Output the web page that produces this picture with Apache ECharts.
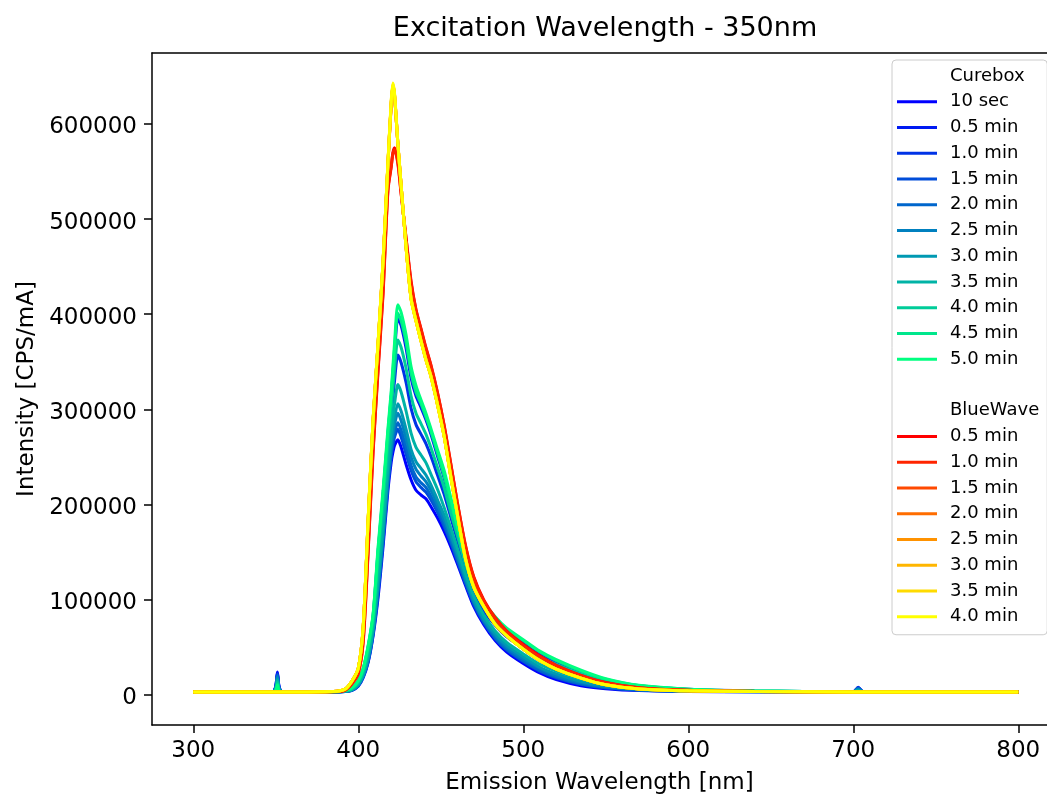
<!DOCTYPE html>
<html><head><meta charset="utf-8">
<script src="https://cdn.jsdelivr.net/npm/echarts@6/dist/echarts.min.js"></script>
<style>html,body{margin:0;padding:0;background:#fff}#chart{width:1047px;height:800px}</style>
</head><body><div id="chart"></div>
<script>
// Emission wavelength grid [nm] shared by all spectra
const wavelengths = [300, 348, 350, 351, 352, 354, 385, 392, 396, 400, 403, 406, 409, 412, 415, 418, 420, 421, 422, 424, 426, 429, 432, 435, 438, 441, 444, 448, 452, 456, 460, 465, 470, 476, 483, 490, 500, 510, 520, 535, 550, 570, 600, 640, 700, 703, 706, 800];
const xTickValues = [300, 400, 500, 600, 700, 800];
const yTickValues = [0, 100000, 200000, 300000, 400000, 500000, 600000];

const cureboxLabels = ['10 sec', '0.5 min', '1.0 min', '1.5 min', '2.0 min', '2.5 min', '3.0 min', '3.5 min', '4.0 min', '4.5 min', '5.0 min'];
const cureboxColors = ['#0000ff', '#001af2', '#0033e6', '#004dd9', '#0066cc', '#0080bf', '#0099b2', '#00b3a6', '#00cc99', '#00e68c', '#00ff80'];
const bluewaveLabels = ['0.5 min', '1.0 min', '1.5 min', '2.0 min', '2.5 min', '3.0 min', '3.5 min', '4.0 min'];
const bluewaveColors = ['#ff0000', '#ff2400', '#ff4900', '#ff6d00', '#ff9200', '#ffb600', '#ffdb00', '#ffff00'];

// Curebox intensities [CPS/mA]
const cb10sec = [3000, 3000, 9000, 24000, 9000, 3000, 3000, 3500, 4500, 9000, 18000, 34000, 62000, 102000, 155000, 215000, 245000, 255000, 262000, 268000, 260000, 242000, 226000, 215000, 210000, 206000, 198000, 186000, 172000, 156000, 138000, 115000, 93000, 74000, 57000, 45000, 33000, 23000, 16000, 9500, 6500, 4500, 3500, 3200, 3000, 8000, 3000, 3000];
const cb05min = [3000, 3000, 9000, 23000, 8000, 3000, 3200, 4400, 6800, 14400, 27000, 50000, 83000, 150000, 209000, 274000, 313000, 336000, 359000, 396000, 388000, 364000, 333000, 314000, 302000, 289000, 274000, 251000, 228000, 200000, 174000, 142000, 117000, 96000, 80000, 68000, 56000, 44000, 35000, 24400, 16000, 9500, 5800, 4100, 3300, 7000, 3300, 3000];
const cb10min = [3000, 3000, 8000, 22000, 8000, 3000, 3100, 4100, 6100, 12800, 24300, 45000, 76000, 135000, 193000, 256000, 292000, 312000, 330000, 357000, 349000, 328000, 301000, 284000, 274000, 264000, 251000, 231000, 211000, 187000, 163000, 134000, 110000, 89000, 73000, 61000, 49000, 37000, 29000, 19900, 13100, 8000, 5100, 3800, 3200, 7000, 3200, 3000];
const cb15min = [3000, 3000, 8000, 21000, 7000, 3000, 3000, 3600, 4700, 9500, 19000, 35000, 64000, 106000, 160000, 220000, 251000, 262000, 271000, 279000, 271000, 253000, 236000, 224000, 218000, 213000, 205000, 192000, 177000, 160000, 141000, 117000, 95000, 76000, 59000, 47000, 35000, 25000, 18000, 11000, 7300, 4900, 3700, 3300, 3000, 7500, 3000, 3000];
const cb20min = [3000, 3000, 7000, 20000, 7000, 3000, 3000, 3600, 4800, 9800, 19300, 36000, 65000, 109000, 163000, 223000, 255000, 267000, 276000, 286000, 278000, 260000, 241000, 229000, 223000, 218000, 209000, 195000, 180000, 162000, 143000, 119000, 97000, 77000, 60000, 48000, 36000, 26000, 19000, 11600, 7900, 5200, 3800, 3300, 3000, 7000, 3000, 3000];
const cb25min = [3000, 3000, 7000, 19000, 6000, 3000, 3000, 3700, 5000, 10200, 20000, 38000, 67000, 113000, 167000, 228000, 260000, 273000, 284000, 296000, 288000, 269000, 250000, 237000, 230000, 224000, 215000, 200000, 184000, 166000, 146000, 121000, 98000, 79000, 62000, 50000, 38000, 28000, 20000, 12800, 8600, 5600, 4000, 3400, 3100, 6000, 3100, 3000];
const cb30min = [3000, 3000, 6000, 17000, 6000, 3000, 3000, 3800, 5200, 10600, 20700, 39000, 68000, 116000, 171000, 233000, 265000, 279000, 291000, 306000, 298000, 279000, 258000, 245000, 238000, 231000, 221000, 205000, 189000, 169000, 149000, 123000, 100000, 80000, 64000, 52000, 40000, 29000, 22000, 14000, 9300, 6000, 4200, 3500, 3100, 5000, 3100, 3000];
const cb35min = [3000, 3000, 6000, 15000, 5000, 3000, 3100, 3900, 5500, 11500, 22100, 41000, 71000, 124000, 180000, 242000, 276000, 292000, 306000, 326000, 318000, 298000, 275000, 260000, 252000, 244000, 232000, 216000, 197000, 176000, 154000, 127000, 104000, 84000, 67000, 55000, 43000, 32000, 25000, 16300, 10800, 6800, 4500, 3600, 3100, 4500, 3100, 3000];
const cb40min = [3000, 3000, 5000, 13000, 5000, 3000, 3100, 4200, 6400, 13400, 25400, 47000, 79000, 141000, 199000, 263000, 300000, 322000, 342000, 373000, 365000, 343000, 314000, 296000, 285000, 274000, 260000, 239000, 218000, 192000, 168000, 137000, 113000, 92000, 76000, 64000, 52000, 40000, 32000, 21700, 14300, 8600, 5400, 3900, 3200, 3500, 3200, 3000];
const cb45min = [3000, 3000, 5000, 11000, 4000, 3000, 3200, 4400, 6900, 14600, 27400, 51000, 84000, 152000, 211000, 276000, 316000, 340000, 364000, 401000, 393000, 370000, 338000, 318000, 306000, 292000, 277000, 254000, 230000, 202000, 176000, 143000, 118000, 97000, 81000, 69000, 57000, 45000, 36000, 25000, 16400, 9700, 5900, 4100, 3300, 3300, 3300, 3000];
const cb50min = [3000, 3000, 4000, 10000, 4000, 3000, 3200, 4500, 7000, 15000, 28000, 52000, 85000, 155000, 215000, 280000, 320000, 345000, 370000, 410000, 402000, 378000, 345000, 325000, 310000, 296000, 280000, 258000, 236000, 208000, 178000, 145000, 120000, 98000, 82000, 70000, 58000, 46000, 37000, 26000, 17000, 10000, 6000, 4200, 3300, 3300, 3300, 3000];

// BlueWave intensities [CPS/mA]
const bw05min = [3000, 3000, 3000, 3000, 3000, 3000, 3200, 4800, 11000, 22000, 55000, 150000, 255000, 340000, 420000, 530000, 555000, 570000, 575000, 560000, 527000, 480000, 435000, 405000, 385000, 365000, 347000, 318000, 284000, 244000, 203000, 157000, 124000, 100000, 81000, 67000, 53000, 41000, 31000, 20500, 13000, 7500, 4800, 3700, 3100, 3100, 3100, 3000];
const bw10min = [3000, 3000, 3000, 3000, 3000, 3000, 3200, 4900, 11500, 23000, 57000, 153000, 258000, 343000, 423000, 532000, 556000, 569000, 573000, 558000, 526000, 479000, 433000, 404000, 384000, 364000, 346000, 317000, 283000, 243000, 202000, 156000, 123000, 99000, 80000, 66000, 52000, 40000, 30500, 20200, 12800, 7400, 4700, 3600, 3100, 3100, 3100, 3000];
const bw15min = [3000, 3000, 3000, 3000, 3000, 3000, 3500, 5900, 13800, 27600, 71000, 183000, 288000, 368000, 453000, 558000, 621000, 639000, 629000, 579000, 534000, 471000, 417000, 394000, 373000, 353000, 336000, 306000, 273000, 231000, 191000, 144000, 114000, 93000, 74000, 62000, 48000, 36000, 27000, 17700, 10700, 6300, 4200, 3500, 3100, 3100, 3100, 3000];
const bw20min = [3000, 3000, 3000, 3000, 3000, 3000, 3500, 5900, 13900, 27700, 71000, 183000, 288000, 368000, 453000, 558000, 622000, 640000, 630000, 579000, 535000, 470000, 417000, 394000, 373000, 353000, 336000, 306000, 273000, 231000, 191000, 144000, 114000, 93000, 74000, 62000, 48000, 36000, 27000, 17600, 10600, 6300, 4200, 3500, 3100, 3100, 3100, 3000];
const bw25min = [3000, 3000, 3000, 3000, 3000, 3000, 3500, 6000, 13900, 27800, 71500, 184000, 289000, 369000, 454000, 559000, 622000, 640000, 630000, 579000, 535000, 470000, 417000, 393000, 372000, 352000, 335000, 305000, 272000, 231000, 190000, 143000, 114000, 93000, 74000, 62000, 48000, 36000, 27000, 17600, 10600, 6200, 4200, 3500, 3100, 3100, 3100, 3000];
const bw30min = [3000, 3000, 3000, 3000, 3000, 3000, 3500, 6000, 13900, 27800, 71500, 184000, 289000, 369000, 454000, 559000, 623000, 641000, 630000, 579000, 535000, 470000, 416000, 393000, 372000, 352000, 335000, 305000, 272000, 230000, 190000, 143000, 113000, 93000, 74000, 62000, 48000, 36000, 27000, 17500, 10500, 6200, 4200, 3500, 3100, 3100, 3100, 3000];
const bw35min = [3000, 3000, 3000, 3000, 3000, 3000, 3500, 6000, 14000, 27900, 71700, 184500, 289500, 369500, 454500, 559500, 624000, 642000, 631000, 580000, 535000, 470000, 416000, 393000, 372000, 352000, 335000, 305000, 272000, 230000, 190000, 143000, 113000, 93000, 74000, 62000, 48000, 36000, 27000, 17500, 10500, 6200, 4200, 3500, 3100, 3100, 3100, 3000];
const bw40min = [3000, 3000, 3000, 3000, 3000, 3000, 3500, 6000, 14000, 28000, 72000, 185000, 290000, 370000, 455000, 560000, 625000, 643000, 632000, 580000, 535000, 470000, 416000, 393000, 372000, 352000, 335000, 305000, 272000, 230000, 190000, 143000, 113000, 93000, 74000, 62000, 48000, 36000, 27000, 17500, 10500, 6200, 4200, 3500, 3100, 3100, 3100, 3000];

const cureboxValues = [cb10sec, cb05min, cb10min, cb15min, cb20min, cb25min, cb30min, cb35min, cb40min, cb45min, cb50min];
const bluewaveValues = [bw05min, bw10min, bw15min, bw20min, bw25min, bw30min, bw35min, bw40min];

const FONT = "'DejaVu Sans', sans-serif";
const series = [];
function addHeader(name) {
  series.push({ name: name, type: 'line', data: [], color: 'rgba(0,0,0,0)', lineStyle: { color: 'rgba(0,0,0,0)' }, symbol: 'none' });
}
function addLine(name, color, vals) {
  series.push({
    name: name, type: 'line', color: color, symbol: 'none', showSymbol: false, smooth: 0.25,
    lineStyle: { width: 3, color: color }, emphasis: { disabled: true },
    data: wavelengths.map((w, k) => [w, vals[k]])
  });
}
addHeader('h1|Curebox');
cureboxLabels.forEach((lab, i) => addLine('cb|' + lab, cureboxColors[i], cureboxValues[i]));
addHeader('gap| ');
addHeader('h2|BlueWave');
bluewaveLabels.forEach((lab, i) => addLine('bw|' + lab, bluewaveColors[i], bluewaveValues[i]));

const chart = echarts.init(document.getElementById('chart'), null, { renderer: 'canvas' });
chart.setOption({
  animation: false,
  backgroundColor: '#ffffff',
  title: {
    text: 'Excitation Wavelength - 350nm', left: 605, top: 15, textAlign: 'center', padding: 0,
    textStyle: { fontFamily: FONT, fontSize: 27, fontWeight: 'normal', color: '#000' }
  },
  grid: { left: 152, top: 53, right: 0, bottom: 72, show: false },
  legend: {
    orient: 'vertical', left: 892, top: 60, icon: 'rect', itemWidth: 40, itemHeight: 3, itemGap: 5.75,
    padding: [6, 8, 8, 5], backgroundColor: 'rgba(255,255,255,0.8)', borderColor: '#cccccc', borderWidth: 1, borderRadius: 4,
    textStyle: { fontFamily: FONT, fontSize: 18, color: '#000', lineHeight: 20, padding: [0, 0, 0, 8] },
    formatter: n => n.split('|')[1],
    data: series.map(s => s.name)
  },
  xAxis: [{
    type: 'value', min: 275, max: 817.4,
    name: 'Emission Wavelength [nm]', nameLocation: 'middle', nameGap: 47,
    nameTextStyle: { fontFamily: FONT, fontSize: 23, color: '#000' },
    axisLine: { show: true, onZero: false, lineStyle: { color: '#000', width: 1.5 } },
    axisTick: { show: true, length: 8, lineStyle: { color: '#000', width: 1.5 }, customValues: xTickValues },
    axisLabel: { customValues: xTickValues, margin: 15, fontFamily: FONT, fontSize: 23, color: '#000' },
    splitLine: { show: false }
  }, {
    type: 'value', position: 'top', min: 275, max: 817.4,
    axisLine: { show: true, onZero: false, lineStyle: { color: '#000', width: 1.5 } },
    axisTick: { show: false }, axisLabel: { show: false }, splitLine: { show: false }
  }],
  yAxis: {
    type: 'value', min: -31700, max: 674500,
    name: 'Intensity [CPS/mA]', nameLocation: 'middle', nameGap: 113,
    nameTextStyle: { fontFamily: FONT, fontSize: 23, color: '#000' },
    axisLine: { show: true, onZero: false, lineStyle: { color: '#000', width: 1.5 } },
    axisTick: { show: true, length: 8, lineStyle: { color: '#000', width: 1.5 }, customValues: yTickValues },
    axisLabel: { customValues: yTickValues, margin: 15, verticalAlign: 'top', lineHeight: 7, fontFamily: FONT, fontSize: 23, color: '#000', formatter: v => String(v) },
    splitLine: { show: false }
  },
  series: series
});
</script>
</body></html>
